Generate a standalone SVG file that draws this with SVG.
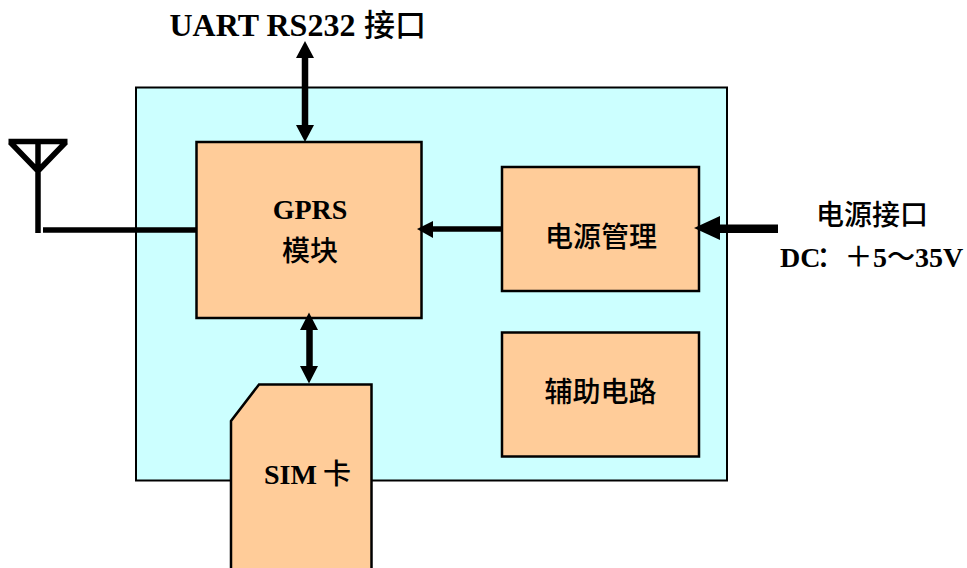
<svg xmlns="http://www.w3.org/2000/svg" width="967" height="568" viewBox="0 0 967 568">
<style>
.box{fill:#ffcc99;stroke:#000;stroke-width:2.5}
.t{font-family:"Liberation Serif","Noto Sans CJK SC",serif;font-weight:700;font-size:28px;fill:#000;text-anchor:middle}
.c{font-family:"Noto Sans CJK SC","Liberation Serif",sans-serif;font-weight:500}
.s{text-anchor:start}
.w{fill:none;stroke:#000;stroke-width:5.500}
.a{fill:#000}
</style>
<rect width="967" height="568" fill="#fff"/>
<g id="board"><rect x="136" y="87.500" width="591" height="393" fill="#ccffff" stroke="#000" stroke-width="2"/></g>
<g id="gprs"><rect class="box" x="196.500" y="142" width="225" height="176"/>
<text class="t" x="310" y="219">GPRS</text><text class="t c" x="310" y="261">模块</text></g>
<g id="power"><rect class="box" x="502" y="167" width="197" height="124"/>
<text class="t c" x="601" y="247">电源管理</text></g>
<g id="aux"><rect class="box" x="502" y="332.500" width="197" height="124"/>
<text class="t c" x="600.500" y="402">辅助电路</text></g>
<g id="sim"><path class="box" d="M231 569V421L259 384.500H371.500V569"/>
<text class="t s" x="264" y="484">SIM</text><text class="t c s" x="323" y="484">卡</text></g>
<g id="antenna"><path class="w" d="M8.500 141.500H67.500M10 142L38 171L66 142M38 142V233"/></g>
<g id="connectors">
<path class="w" d="M43 230H196"/>
<path fill="none" stroke="#000" stroke-width="6.500" d="M305 55V129M309.500 328V372"/>
<path class="a" d="M305 41L314 58H296ZM305 142L296 125H314Z"/>
<path class="a" d="M309 312.500L318 330H300ZM309 383.500L300 366H318Z"/>
<path class="w" d="M430 229H502"/><path class="a" d="M417 229L433 221V238Z"/>
<path fill="#000" d="M712 224.500H778V233H712Z"/><path class="a" d="M694 228L720 216V240Z"/>
</g>
<g id="labels">
<text class="t s" x="169.500" y="36" style="font-size:32px">UART RS232</text>
<text class="t c s" x="364" y="36" style="font-size:31px">接口</text>
<text class="t c" x="872" y="225">电源接口</text>
<text class="t s" x="780" y="267">DC</text>
<text class="t c s" x="816.500" y="267">：＋</text>
<text class="t s" x="873" y="267">5</text>
<text class="t c s" x="887" y="267">～</text>
<text class="t s" x="915" y="267">35V</text>
</g>
</svg>
